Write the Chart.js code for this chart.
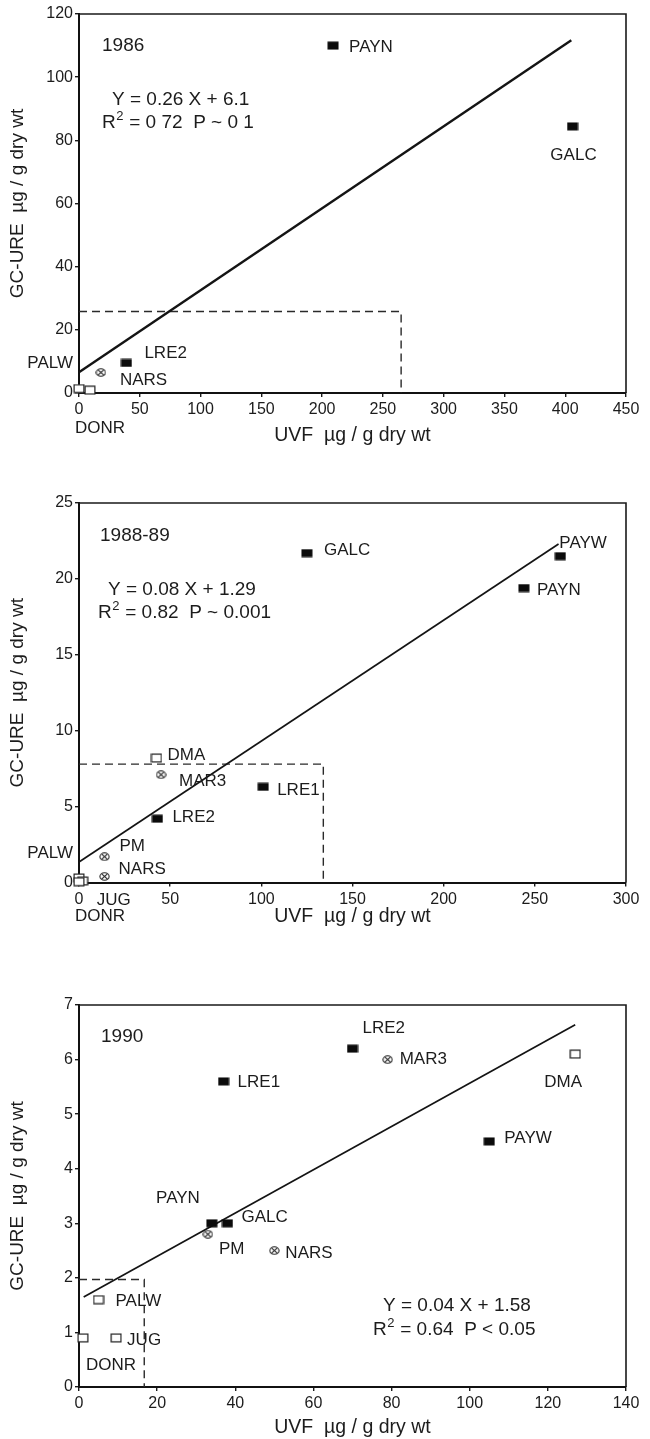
<!DOCTYPE html>
<html>
<head>
<meta charset="utf-8">
<title>GC-URE vs UVF</title>
<script src="https://cdn.jsdelivr.net/npm/chart.js@4.4.1/dist/chart.umd.min.js"></script>
<style>
  html, body { margin: 0; padding: 0; background: #fff; }
  #wrap { position: relative; width: 650px; height: 1439px; background: #fff; }
  canvas { position: absolute; left: 0; }
</style>
</head>
<body>
<div id="wrap">
  <canvas id="c1986" width="650" height="460" style="top:0px"></canvas>
  <canvas id="c1988" width="650" height="460" style="top:470px"></canvas>
  <canvas id="c1990" width="650" height="509" style="top:930px"></canvas>
</div>
<script>
// ---- 1986 ----
const sites1986 = ['PAYN', 'GALC', 'LRE2', 'NARS', 'PALW', 'DONR'];
const uvf1986   = [209, 406, 39, 18, 0, 9];
const gc1986    = [110, 84.4, 9.5, 6.5, 1.4, 0.9];
const fitUvf1986 = [0, 405];
const fitGc1986  = [6.6, 111.7];
const boxUvf1986 = [0, 265, 265];
const boxGc1986  = [25.8, 25.8, 0];
const ticksUvf1986 = [0, 50, 100, 150, 200, 250, 300, 350, 400, 450];
const ticksGc1986  = [0, 20, 40, 60, 80, 100, 120];

// ---- 1988-89 ----
const sites1988 = ['GALC', 'PAYW', 'PAYN', 'DMA', 'MAR3', 'LRE1', 'LRE2', 'PM', 'NARS', 'PALW', 'JUG', 'DONR'];
const uvf1988   = [125, 264, 244, 42.5, 45, 101, 43, 14, 14, 0, 2, 0];
const gc1988    = [21.7, 21.5, 19.4, 8.2, 7.1, 6.3, 4.2, 1.7, 0.4, 0.3, 0.1, 0.05];
const fitUvf1988 = [0, 263];
const fitGc1988  = [1.35, 22.3];
const boxUvf1988 = [0, 134, 134];
const boxGc1988  = [7.8, 7.8, 0];
const ticksUvf1988 = [0, 50, 100, 150, 200, 250, 300];
const ticksGc1988  = [0, 5, 10, 15, 20, 25];

// ---- 1990 ----
const sites1990 = ['LRE2', 'MAR3', 'LRE1', 'DMA', 'PAYW', 'PAYN', 'GALC', 'PM', 'NARS', 'PALW', 'JUG', 'DONR'];
const uvf1990   = [70, 79, 37, 127, 105, 34, 38, 33, 50, 5, 9.5, 1];
const gc1990    = [6.2, 6.0, 5.6, 6.1, 4.5, 3.0, 3.0, 2.8, 2.5, 1.6, 0.9, 0.9];
const fitUvf1990 = [1.2, 127];
const fitGc1990  = [1.65, 6.64];
const boxUvf1990 = [0, 16.7, 16.7];
const boxGc1990  = [1.97, 1.97, 0];
const ticksUvf1990 = [0, 20, 40, 60, 80, 100, 120, 140];
const ticksGc1990  = [0, 1, 2, 3, 4, 5, 6, 7];

// Site groups (symbol type per site)
const siteGroup = {
  PAYN: 'filled', PAYW: 'filled', GALC: 'filled', LRE1: 'filled', LRE2: 'filled',
  NARS: 'crossed', MAR3: 'crossed', PM: 'crossed',
  PALW: 'open', DONR: 'open', JUG: 'open', DMA: 'open'
};

const FONT = '"Liberation Sans", Arial, Helvetica, sans-serif';
const INK = '#1c1c1c';

Chart.defaults.font.family = FONT;
Chart.defaults.color = INK;

// Marker images for the three site groups
function makeSymbol(kind) {
  const c = document.createElement('canvas');
  const g = c.getContext('2d');
  if (kind === 'filled') {
    c.width = 12; c.height = 9;
    g.fillStyle = '#0b0b0b';
    g.fillRect(0.5, 0.5, 11, 8);
  } else if (kind === 'open') {
    c.width = 12; c.height = 10;
    g.fillStyle = '#fff';
    g.fillRect(1, 1, 10, 8);
    g.strokeStyle = '#222';
    g.lineWidth = 1.2;
    g.strokeRect(1.1, 1.1, 9.8, 7.8);
  } else {
    c.width = 11; c.height = 9;
    g.fillStyle = '#fff';
    g.strokeStyle = '#222';
    g.lineWidth = 1.1;
    g.beginPath();
    g.ellipse(5.5, 4.5, 4.6, 3.7, 0, 0, Math.PI * 2);
    g.fill();
    g.stroke();
    g.beginPath();
    g.moveTo(2.6, 1.8); g.lineTo(8.4, 7.2);
    g.moveTo(8.4, 1.8); g.lineTo(2.6, 7.2);
    g.stroke();
  }
  return c;
}
const symbols = { filled: makeSymbol('filled'), open: makeSymbol('open'), crossed: makeSymbol('crossed') };

// Label placement: [dx, dy, align] in pixels from each marker
const labelPlacement1986 = {
  PAYN: [16, 2, 'left'], GALC: [1, 29, 'center'], LRE2: [18, -10, 'left'],
  NARS: [19, 8, 'left'], PALW: [-6, -25, 'right'], DONR: [-15, 38, 'left']
};
const labelPlacement1988 = {
  GALC: [17, -3, 'left'], PAYW: [-1, -13, 'left'], PAYN: [13, 2, 'left'],
  DMA: [11, -3, 'left'], MAR3: [18, 7, 'left'], LRE1: [14, 3, 'left'],
  LRE2: [15, -1, 'left'], PM: [15, -10, 'left'], NARS: [14, -7, 'left'],
  PALW: [-6, -25, 'right'], JUG: [14, 19, 'left'], DONR: [-4, 35, 'left']
};
const labelPlacement1990 = {
  LRE2: [10, -20, 'left'], MAR3: [12, 0, 'left'], LRE1: [14, 1, 'left'],
  DMA: [-12, 28, 'center'], PAYW: [15, -3, 'left'], PAYN: [-12, -25, 'right'],
  GALC: [14, -6, 'left'], PM: [11, 15, 'left'], NARS: [11, 3, 'left'],
  PALW: [17, 2, 'left'], JUG: [11, 2, 'left'], DONR: [3, 27, 'left']
};

// Year and regression notes, offsets from the plot area's top-left corner
const notes1986 = {
  year: '1986', yearPos: [23, 32],
  eq: 'Y = 0.26 X + 6.1', eqPos: [33, 86],
  r2: ' = 0 72  P ~ 0 1', r2Pos: [23, 109]
};
const notes1988 = {
  year: '1988-89', yearPos: [21, 33],
  eq: 'Y = 0.08 X + 1.29', eqPos: [29, 87],
  r2: ' = 0.82  P ~ 0.001', r2Pos: [19, 110]
};
const notes1990 = {
  year: '1990', yearPos: [22, 32],
  eq: 'Y = 0.04 X + 1.58', eqPos: [304, 301],
  r2: ' = 0.64  P < 0.05', r2Pos: [294, 325]
};

const toPoints = (xs, ys) => xs.map((v, i) => ({ x: v, y: ys[i] }));

const framePlugin = {
  id: 'frame',
  afterDatasetsDraw(chart, args, opts) {
    const { ctx, chartArea: a } = chart;
    ctx.save();
    // top and right edges of the plot box
    ctx.strokeStyle = '#1a1a1a';
    ctx.lineWidth = 1.6;
    ctx.beginPath();
    ctx.moveTo(a.left, a.top);
    ctx.lineTo(a.right, a.top);
    ctx.lineTo(a.right, a.bottom);
    ctx.stroke();

    // site labels
    const meta = chart.getDatasetMeta(0);
    ctx.fillStyle = INK;
    ctx.font = '17px ' + FONT;
    ctx.textBaseline = 'middle';
    meta.data.forEach((pt, i) => {
      const name = opts.sites[i];
      const p = opts.placement[name];
      ctx.textAlign = p[2];
      ctx.fillText(name, pt.x + p[0], pt.y + p[1]);
    });

    // year and regression statistics
    const n = opts.notes;
    ctx.textAlign = 'left';
    ctx.font = '19px ' + FONT;
    ctx.fillText(n.year, a.left + n.yearPos[0], a.top + n.yearPos[1]);
    ctx.fillText(n.eq, a.left + n.eqPos[0], a.top + n.eqPos[1]);
    const rx = a.left + n.r2Pos[0], ry = a.top + n.r2Pos[1];
    ctx.fillText('R', rx, ry);
    const wR = ctx.measureText('R').width;
    ctx.font = '13px ' + FONT;
    ctx.fillText('2', rx + wR + 0.5, ry - 7);
    const w2 = ctx.measureText('2').width;
    ctx.font = '19px ' + FONT;
    ctx.fillText(n.r2, rx + wR + w2 + 1, ry);
    ctx.restore();
  }
};

function buildChart(id, c) {
  return new Chart(document.getElementById(id), {
    type: 'scatter',
    data: {
      datasets: [
        {
          data: toPoints(c.uvf, c.gc),
          pointStyle: ctx => symbols[siteGroup[c.sites[ctx.dataIndex]]],
          pointRadius: 6,
          clip: false
        },
        {
          data: toPoints(c.fitUvf, c.fitGc),
          showLine: true,
          borderColor: '#141414',
          borderWidth: c.fitWidth,
          pointRadius: 0,
          fill: false,
          clip: false
        },
        {
          data: toPoints(c.boxUvf, c.boxGc),
          showLine: true,
          borderColor: '#2a2a2a',
          borderWidth: 1.4,
          borderDash: [8, 5],
          pointRadius: 0,
          fill: false,
          clip: false
        }
      ]
    },
    options: {
      responsive: false,
      animation: false,
      events: [],
      layout: { padding: { left: 0, right: 24, top: c.padTop, bottom: 0 } },
      plugins: {
        legend: { display: false },
        tooltip: { enabled: false },
        frame: { sites: c.sites, placement: c.placement, notes: c.notes }
      },
      scales: {
        x: {
          type: 'linear',
          min: c.xTicks[0],
          max: c.xTicks[c.xTicks.length - 1],
          afterBuildTicks: s => { s.ticks = c.xTicks.map(v => ({ value: v })); },
          afterFit: s => { s.height = c.xAxisHeight; },
          grid: { display: true, drawOnChartArea: false, drawTicks: true, tickLength: 4, color: '#1a1a1a', lineWidth: 1.4 },
          border: { display: true, color: '#111', width: 2 },
          ticks: { color: INK, font: { size: 16 }, padding: 3, maxRotation: 0, autoSkip: false },
          title: {
            display: true, text: 'UVF  µg / g dry wt', color: INK,
            font: { size: 19.5, lineHeight: 1.2 },
            padding: { top: 0, bottom: c.xTitlePad }
          }
        },
        y: {
          type: 'linear',
          min: c.yTicks[0],
          max: c.yTicks[c.yTicks.length - 1],
          afterBuildTicks: s => { s.ticks = c.yTicks.map(v => ({ value: v })); },
          afterFit: s => { s.width = 79; },
          grid: { display: true, drawOnChartArea: false, drawTicks: true, tickLength: 4, color: '#1a1a1a', lineWidth: 1.4 },
          border: { display: true, color: '#111', width: 2 },
          ticks: { color: INK, font: { size: 16 }, padding: 2, autoSkip: false },
          title: {
            display: true, text: 'GC-URE  µg / g dry wt', color: INK,
            font: { size: 19, lineHeight: 1.2 },
            padding: { top: 6, bottom: 0 }
          }
        }
      }
    },
    plugins: [framePlugin]
  });
}

buildChart('c1986', {
  sites: sites1986, uvf: uvf1986, gc: gc1986,
  fitUvf: fitUvf1986, fitGc: fitGc1986, fitWidth: 2.4,
  boxUvf: boxUvf1986, boxGc: boxGc1986,
  xTicks: ticksUvf1986, yTicks: ticksGc1986,
  placement: labelPlacement1986, notes: notes1986,
  padTop: 14, xAxisHeight: 67, xTitlePad: 13
});

buildChart('c1988', {
  sites: sites1988, uvf: uvf1988, gc: gc1988,
  fitUvf: fitUvf1988, fitGc: fitGc1988, fitWidth: 1.7,
  boxUvf: boxUvf1988, boxGc: boxGc1988,
  xTicks: ticksUvf1988, yTicks: ticksGc1988,
  placement: labelPlacement1988, notes: notes1988,
  padTop: 33, xAxisHeight: 47.5, xTitlePad: 1.5
});

buildChart('c1990', {
  sites: sites1990, uvf: uvf1990, gc: gc1990,
  fitUvf: fitUvf1990, fitGc: fitGc1990, fitWidth: 1.7,
  boxUvf: boxUvf1990, boxGc: boxGc1990,
  xTicks: ticksUvf1990, yTicks: ticksGc1990,
  placement: labelPlacement1990, notes: notes1990,
  padTop: 75, xAxisHeight: 52, xTitlePad: 0
});
</script>
</body>
</html>
